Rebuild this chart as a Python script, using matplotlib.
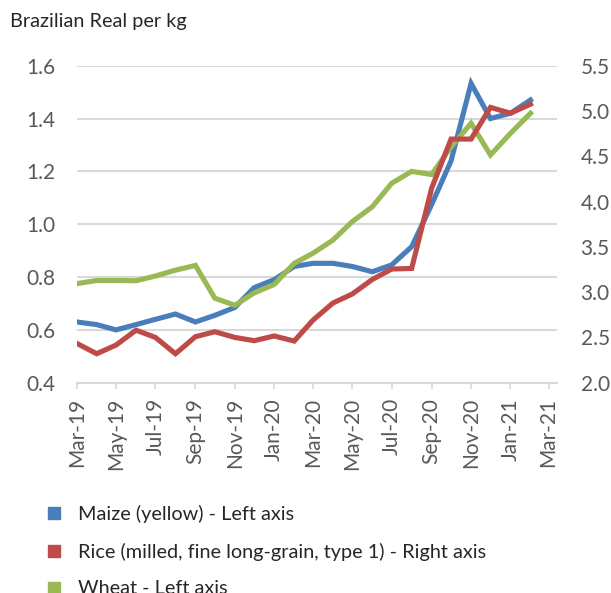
import numpy as np
import pandas as pd
import matplotlib.pyplot as plt
import matplotlib.dates as mdates
from matplotlib.lines import Line2D

plt.rcParams['font.family'] = ['Lato', 'DejaVu Sans']

# DATA (monthly, Mar-19 .. Feb-21)
months = pd.date_range("2019-03-01", "2021-02-01", freq="MS")
maize = [0.63, 0.62, 0.60, 0.62, 0.64, 0.66, 0.63, 0.655, 0.685, 0.76, 0.79, 0.84,
         0.852, 0.852, 0.84, 0.82, 0.846, 0.915, 1.075, 1.24, 1.533, 1.40, 1.42, 1.47]
wheat = [0.775, 0.787, 0.787, 0.786, 0.804, 0.826, 0.844, 0.72, 0.693, 0.74, 0.772, 0.852,
         0.89, 0.94, 1.01, 1.066, 1.155, 1.20, 1.188, 1.293, 1.382, 1.262, 1.344, 1.42]
rice = [2.435, 2.32, 2.416, 2.58, 2.50, 2.32, 2.508, 2.563, 2.50, 2.464, 2.516, 2.46,
        2.69, 2.88, 2.98, 3.14, 3.255, 3.262, 4.15, 4.69, 4.69, 5.04, 4.975, 5.075]

left_ticks = [0.4, 0.6, 0.8, 1.0, 1.2, 1.4, 1.6]
right_ticks = [2.0, 2.5, 3.0, 3.5, 4.0, 4.5, 5.0, 5.5]
labels = ["Maize (yellow) - Left axis",
          "Rice (milled, fine long-grain, type 1) - Right axis",
          "Wheat - Left axis"]

BLUE = "#4A7EBB"
RED = "#BE4B48"
GREEN = "#98B954"
GRID = "#D9D9D9"
TXT = "#595959"

fig = plt.figure(figsize=(6.11, 5.93), dpi=100)
ax = fig.add_axes([0.1255, 0.3546, 0.786, 0.5346])
ax2 = ax.twinx()

ax.plot(months, maize, color=BLUE, lw=3.7, solid_joinstyle="miter", zorder=3)
ax.plot(months, wheat, color=GREEN, lw=3.7, solid_joinstyle="miter", zorder=3)
ax2.plot(months, rice, color=RED, lw=3.7, solid_joinstyle="miter", zorder=3)

ax.set_ylim(0.4, 1.6)
ax.set_yticks(left_ticks)
ax.set_yticklabels([f"{v:.1f}" for v in left_ticks])
ax2.set_ylim(2.0, 5.5)
ax2.set_yticks(right_ticks)
ax2.set_yticklabels([f"{v:.1f}" for v in right_ticks])

ax.set_xlim(pd.Timestamp("2019-03-01"), pd.Timestamp("2021-03-14"))
ax.xaxis.set_major_locator(mdates.MonthLocator(bymonth=(1, 3, 5, 7, 9, 11)))
ax.xaxis.set_major_formatter(mdates.DateFormatter("%b-%y"))

ax.grid(axis="y", color=GRID, lw=1.5)
ax.set_axisbelow(True)
for a in (ax, ax2):
    for s in a.spines.values():
        s.set_visible(False)
ax.spines["bottom"].set_visible(True)
ax.spines["bottom"].set_color(GRID)
ax.spines["bottom"].set_linewidth(1.5)

ax.tick_params(axis="y", length=0, pad=15, labelsize=15, labelcolor=TXT)
ax2.tick_params(axis="y", length=0, pad=17, labelsize=15, labelcolor=TXT)
ax.tick_params(axis="x", length=4, width=1.2, color=GRID, pad=7,
               labelsize=15, labelcolor=TXT, labelrotation=90)

fig.text(0.016, 0.963, "Brazilian Real per kg", fontsize=14.3, color="#262626",
         ha="left", va="center")

handles = [Line2D([], [], marker="s", ls="none", markersize=9, color=c)
           for c in (BLUE, RED, GREEN)]
fig.legend(handles, labels, loc="upper left", bbox_to_anchor=(0.072, 0.149),
           frameon=False, fontsize=14.3, handlelength=1.0, handletextpad=0.71,
           labelspacing=1.0, borderpad=0, borderaxespad=0, labelcolor="#262626")

fig.savefig("out.png", dpi=100)
